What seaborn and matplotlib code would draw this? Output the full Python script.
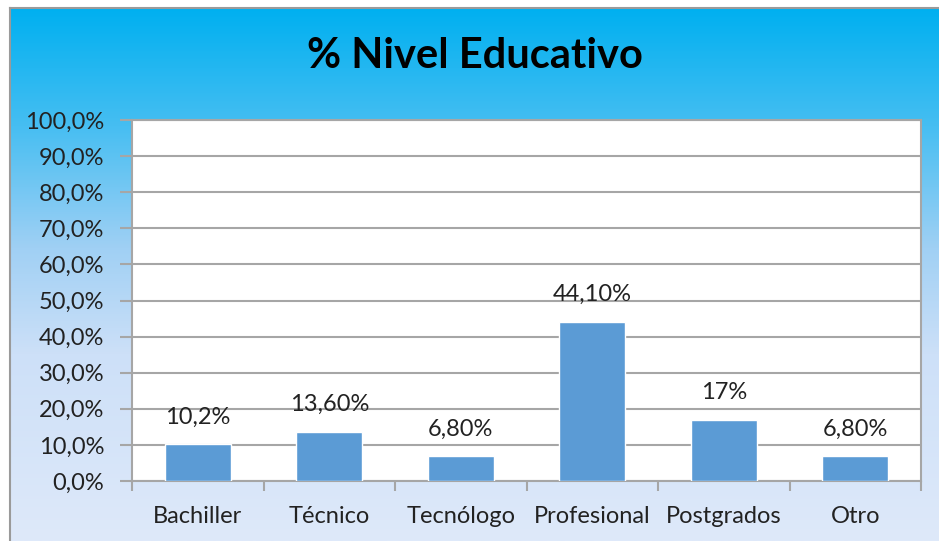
import numpy as np
import pandas as pd
import seaborn as sns
import matplotlib.pyplot as plt
import matplotlib.colors as mcolors
from matplotlib.ticker import FixedLocator

categorias = ['Bachiller', 'Técnico', 'Tecnólogo', 'Profesional', 'Postgrados', 'Otro']
porcentajes = [10.2, 13.6, 6.8, 44.1, 17.0, 6.8]
etiquetas = ['10,2%', '13,60%', '6,80%', '44,10%', '17%', '6,80%']
ticks_y = [0, 10, 20, 30, 40, 50, 60, 70, 80, 90, 100]
ticks_y_txt = [f"{v:.1f}%".replace('.', ',') for v in ticks_y]

df = pd.DataFrame({'categoria': categorias, 'pct': porcentajes})

sns.set_theme(style='white')
plt.rcParams['font.family'] = ['Lato', 'DejaVu Sans']

W, H = 939, 541
fig = plt.figure(figsize=(W / 100, H / 100), dpi=100)
fig.patch.set_facecolor('white')

# fondo degradado del área del gráfico
bg = fig.add_axes([10 / W, 0, (W - 10) / W, (H - 8) / H])
grad = mcolors.LinearSegmentedColormap.from_list('fondo', [
    (0.0, (0 / 255, 176 / 255, 240 / 255)),
    (0.22, (70 / 255, 190 / 255, 242 / 255)),
    (0.45, (160 / 255, 208 / 255, 244 / 255)),
    (0.65, (205 / 255, 224 / 255, 248 / 255)),
    (1.0, (222 / 255, 233 / 255, 250 / 255)),
])
bg.imshow(np.linspace(0, 1, 256).reshape(-1, 1), aspect='auto', cmap=grad,
          extent=[0, 1, 0, 1], origin='upper')
bg.set_xlim(0, 1)
bg.set_ylim(0, 1)
bg.set_xticks([])
bg.set_yticks([])
for s in ['right', 'bottom']:
    bg.spines[s].set_visible(False)
for s in ['left', 'top']:
    bg.spines[s].set_color('#9a9a9a')
    bg.spines[s].set_linewidth(1.5)
bg.set_zorder(0)

# área de trazado
x0, x1, y0, y1 = 132, 921, 120, 481
ax = fig.add_axes([x0 / W, 1 - y1 / H, (x1 - x0) / W, (y1 - y0) / H])
ax.set_zorder(1)
ax.set_facecolor('white')

sns.barplot(data=df, x='categoria', y='pct', color='#5B9BD5', width=0.5,
            saturation=1, ax=ax, zorder=3)

ax.set_ylim(0, 100)
ax.set_xlim(-0.5, len(categorias) - 0.5)
ax.set_yticks(ticks_y)
ax.set_yticklabels(ticks_y_txt)
ax.yaxis.grid(True, color='#a6a6a6', linewidth=1.5, zorder=0)
ax.set_axisbelow(True)
ax.set_xlabel('')
ax.set_ylabel('')

for s in ax.spines.values():
    s.set_color('#a6a6a6')
    s.set_linewidth(1.5)

ax.tick_params(axis='y', which='major', direction='out', length=9, width=1.5,
               color='#a6a6a6', labelsize=17, pad=11, left=True, labelcolor='#222222')
ax.tick_params(axis='x', which='major', length=0, labelsize=17, pad=18, labelcolor='#222222')
ax.xaxis.set_minor_locator(FixedLocator(np.arange(-0.5, len(categorias), 1.0)))
ax.tick_params(axis='x', which='minor', direction='out', length=7, width=1.5,
               color='#a6a6a6', bottom=True)

for i, (v, t) in enumerate(zip(porcentajes, etiquetas)):
    ax.annotate(t, (i, v), xytext=(0, 12), textcoords='offset points',
                ha='center', va='bottom', fontsize=17, color='#222222', zorder=4)

fig.text(0.5 * (W + 10) / W, 1 - 56 / H, '% Nivel Educativo', ha='center', va='center',
         fontsize=30, fontweight='bold', color='black', zorder=5)

fig.savefig('out.png', dpi=100)
